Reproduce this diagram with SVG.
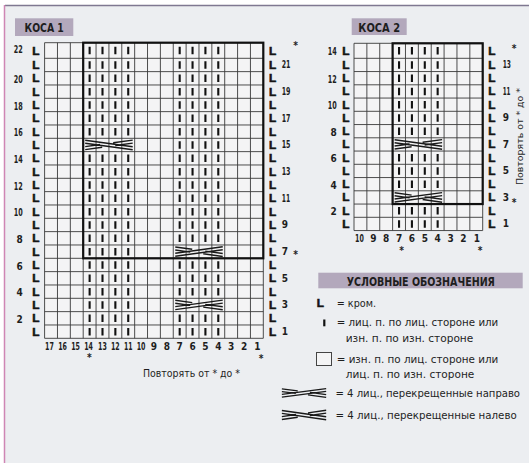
<svg xmlns="http://www.w3.org/2000/svg" xmlns:xlink="http://www.w3.org/1999/xlink" width="529" height="463" viewBox="0 0 529 463">
<style>
.bg{fill:#eceef1}
.cells{fill:#f4f4f5}
.grid{fill:none;stroke:#3a3a3a;stroke-width:0.9}
.thick{fill:none;stroke:#111;stroke-width:2.2}
.tab{fill:#b3a8bc}
.t{font-family:"Liberation Sans Narrow","DejaVu Sans Condensed","Liberation Sans",sans-serif;fill:#1e1e1e}
.b{font-weight:bold}
.L{font-family:"Liberation Sans","DejaVu Sans",sans-serif;font-weight:bold;font-size:11.8px;fill:#151515;stroke:#151515;stroke-width:0.6}
.n{font-size:10px}
.s{font-size:10px}
.lg{font-size:11px}
.m1{stroke:#111;stroke-width:2.1;stroke-dasharray:7.5 5.833}
.m2{stroke:#111;stroke-width:2.1;stroke-dasharray:7.4 5.85}
.mk{stroke:#111;stroke-width:2.1}
.cb{fill:none;stroke:#1a1a1a;stroke-width:1.4}
.mid{text-anchor:middle}
.end{text-anchor:end}
</style>
<defs>
<symbol id="crossR" viewBox="0 0 51.46 13.33" preserveAspectRatio="none">
<path class="cb" d="M2 11.3L49.5 4.8M2 8.3L49.5 1.8M2 2L19 4.3M32 6.1L49.5 8.5M2 5L17 7.1M30 8.8L49.5 11.5"/>
</symbol>
<symbol id="crossL" viewBox="0 0 51.46 13.33" preserveAspectRatio="none">
<path class="cb" d="M2 2L49.5 8.5M2 5L49.5 11.5M2 11.3L19 9M32 7.2L49.5 4.8M2 8.3L17 6.2M30 4.5L49.5 1.8"/>
</symbol>
</defs>
<rect width="529" height="463" fill="#ffffff"/>
<rect class="bg" x="5" y="5" width="524" height="458"/>
<line x1="5" y1="5.5" x2="529" y2="5.5" stroke="#7f7891" stroke-width="1.5"/>
<line x1="4.5" y1="5" x2="4.5" y2="463" stroke="#cf86b5" stroke-width="1.5"/>

<g id="koca1">
<rect class="tab" x="15" y="18.3" width="58.3" height="17.7"/>
<text class="t b mid" x="44.2" y="32" font-size="13" textLength="39.3" lengthAdjust="spacingAndGlyphs">КОСА 1</text>
<rect class="cells" x="44.6" y="42.7" width="218.71" height="295.6"/>
<path class="grid" d="M44.6 42.7V338.3M57.47 42.7V338.3M70.33 42.7V338.3M83.2 42.7V338.3M96.06 42.7V338.3M108.93 42.7V338.3M121.79 42.7V338.3M134.66 42.7V338.3M147.52 42.7V338.3M160.39 42.7V338.3M173.25 42.7V338.3M186.12 42.7V338.3M198.98 42.7V338.3M211.85 42.7V338.3M224.71 42.7V338.3M237.58 42.7V338.3M250.44 42.7V338.3M263.31 42.7V338.3
M44.6 42.7H263.31M44.6 58.3H263.31M44.6 71.63H263.31M44.6 84.97H263.31M44.6 98.3H263.31M44.6 111.63H263.31M44.6 124.97H263.31M44.6 138.3H263.31M44.6 151.63H263.31M44.6 164.97H263.31M44.6 178.3H263.31M44.6 191.63H263.31M44.6 204.97H263.31M44.6 218.3H263.31M44.6 231.63H263.31M44.6 244.97H263.31M44.6 258.3H263.31M44.6 271.63H263.31M44.6 284.97H263.31M44.6 298.3H263.31M44.6 311.63H263.31M44.6 324.97H263.31M44.6 338.3H263.31"/>
<rect class="thick" x="83.2" y="42.7" width="180.11" height="215.6"/>
<path class="mk" d="M89.63 46.75v7.5M102.5 46.75v7.5M115.36 46.75v7.5M128.23 46.75v7.5M179.69 46.75v7.5M192.55 46.75v7.5M205.42 46.75v7.5M218.28 46.75v7.5"/>
<g class="m1">
<line x1="89.63" y1="61.217" x2="89.63" y2="138.3"/><line x1="102.5" y1="61.217" x2="102.5" y2="138.3"/><line x1="115.36" y1="61.217" x2="115.36" y2="138.3"/><line x1="128.23" y1="61.217" x2="128.23" y2="138.3"/>
<line x1="89.63" y1="154.55" x2="89.63" y2="338.3"/><line x1="102.5" y1="154.55" x2="102.5" y2="338.3"/><line x1="115.36" y1="154.55" x2="115.36" y2="338.3"/><line x1="128.23" y1="154.55" x2="128.23" y2="338.3"/>
<line x1="179.69" y1="61.217" x2="179.69" y2="244.97"/><line x1="192.55" y1="61.217" x2="192.55" y2="244.97"/><line x1="205.42" y1="61.217" x2="205.42" y2="244.97"/><line x1="218.28" y1="61.217" x2="218.28" y2="244.97"/>
<line x1="179.69" y1="261.217" x2="179.69" y2="298.3"/><line x1="192.55" y1="261.217" x2="192.55" y2="298.3"/><line x1="205.42" y1="261.217" x2="205.42" y2="298.3"/><line x1="218.28" y1="261.217" x2="218.28" y2="298.3"/>
<line x1="179.69" y1="314.55" x2="179.69" y2="338.3"/><line x1="192.55" y1="314.55" x2="192.55" y2="338.3"/><line x1="205.42" y1="314.55" x2="205.42" y2="338.3"/><line x1="218.28" y1="314.55" x2="218.28" y2="338.3"/>
</g>
<use xlink:href="#crossL" x="83.2" y="138.3" width="51.46" height="13.33"/>
<use xlink:href="#crossR" x="173.25" y="244.97" width="51.46" height="13.33"/>
<use xlink:href="#crossR" x="173.25" y="298.3" width="51.46" height="13.33"/>
<g class="L">
<text x="32.3" y="54.5">L</text><text x="32.3" y="68.97">L</text><text x="32.3" y="82.3">L</text><text x="32.3" y="95.63">L</text><text x="32.3" y="108.97">L</text><text x="32.3" y="122.3">L</text><text x="32.3" y="135.63">L</text><text x="32.3" y="148.97">L</text><text x="32.3" y="162.3">L</text><text x="32.3" y="175.63">L</text><text x="32.3" y="188.97">L</text><text x="32.3" y="202.3">L</text><text x="32.3" y="215.63">L</text><text x="32.3" y="228.97">L</text><text x="32.3" y="242.3">L</text><text x="32.3" y="255.63">L</text><text x="32.3" y="268.97">L</text><text x="32.3" y="282.3">L</text><text x="32.3" y="295.63">L</text><text x="32.3" y="308.97">L</text><text x="32.3" y="322.3">L</text><text x="32.3" y="335.63">L</text>
<text x="269" y="54.5">L</text><text x="269" y="68.97">L</text><text x="269" y="82.3">L</text><text x="269" y="95.63">L</text><text x="269" y="108.97">L</text><text x="269" y="122.3">L</text><text x="269" y="135.63">L</text><text x="269" y="148.97">L</text><text x="269" y="162.3">L</text><text x="269" y="175.63">L</text><text x="269" y="188.97">L</text><text x="269" y="202.3">L</text><text x="269" y="215.63">L</text><text x="269" y="228.97">L</text><text x="269" y="242.3">L</text><text x="269" y="255.63">L</text><text x="269" y="268.97">L</text><text x="269" y="282.3">L</text><text x="269" y="295.63">L</text><text x="269" y="308.97">L</text><text x="269" y="322.3">L</text><text x="269" y="335.63">L</text>
</g>
<g class="t b n end">
<text x="22.7" y="52.5" textLength="9" lengthAdjust="spacingAndGlyphs">22</text><text x="22.7" y="82.8" textLength="9" lengthAdjust="spacingAndGlyphs">20</text><text x="22.7" y="109.5" textLength="9" lengthAdjust="spacingAndGlyphs">18</text><text x="22.7" y="136.1" textLength="9" lengthAdjust="spacingAndGlyphs">16</text><text x="22.7" y="162.8" textLength="9" lengthAdjust="spacingAndGlyphs">14</text><text x="22.7" y="189.5" textLength="9" lengthAdjust="spacingAndGlyphs">12</text><text x="22.7" y="216.1" textLength="9" lengthAdjust="spacingAndGlyphs">10</text><text x="22.7" y="242.8">8</text><text x="22.7" y="269.5">6</text><text x="22.7" y="296.1">4</text><text x="22.7" y="322.8">2</text>
</g>
<g class="t b n">
<text x="281.7" y="68.4" textLength="8.8" lengthAdjust="spacingAndGlyphs">21</text><text x="281.7" y="95" textLength="8.8" lengthAdjust="spacingAndGlyphs">19</text><text x="281.7" y="121.7" textLength="8.8" lengthAdjust="spacingAndGlyphs">17</text><text x="281.7" y="148.4" textLength="8.8" lengthAdjust="spacingAndGlyphs">15</text><text x="281.7" y="175" textLength="8.8" lengthAdjust="spacingAndGlyphs">13</text><text x="281.7" y="201.7" textLength="8.4" lengthAdjust="spacingAndGlyphs">11</text><text x="281.7" y="228.4">9</text><text x="281.7" y="255">7</text><text x="281.7" y="281.7">5</text><text x="281.7" y="308.4">3</text><text x="281.7" y="335">1</text>
</g>
<g class="t b n mid">
<text x="49.5" y="350" textLength="8.8" lengthAdjust="spacingAndGlyphs">17</text><text x="62.6" y="350" textLength="8.8" lengthAdjust="spacingAndGlyphs">16</text><text x="75.6" y="350" textLength="8.8" lengthAdjust="spacingAndGlyphs">15</text><text x="88.6" y="350" textLength="8.8" lengthAdjust="spacingAndGlyphs">14</text><text x="102.5" y="350" textLength="8.8" lengthAdjust="spacingAndGlyphs">13</text><text x="115.36" y="350" textLength="8.8" lengthAdjust="spacingAndGlyphs">12</text><text x="128.23" y="350" textLength="8.5" lengthAdjust="spacingAndGlyphs">11</text><text x="141.09" y="350" textLength="8.8" lengthAdjust="spacingAndGlyphs">10</text><text x="153.96" y="350">9</text><text x="166.82" y="350">8</text><text x="179.69" y="350">7</text><text x="192.55" y="350">6</text><text x="205.42" y="350">5</text><text x="218.28" y="350">4</text><text x="231.15" y="350">3</text><text x="244.01" y="350">2</text><text x="257.5" y="350">1</text>
</g>
<g class="t b s mid">
<text x="89.3" y="361">*</text><text x="261" y="361.5">*</text><text x="295.7" y="49">*</text><text x="295.7" y="258">*</text>
</g>
<text class="t s" x="143" y="377" textLength="97" lengthAdjust="spacingAndGlyphs">Повторять от * до *</text>
</g>

<g id="koca2">
<rect class="tab" x="351.7" y="18.3" width="55" height="16.7"/>
<text class="t b mid" x="379.2" y="31.5" font-size="13" textLength="41.7" lengthAdjust="spacingAndGlyphs">КОСА 2</text>
<rect class="cells" x="354" y="43.3" width="128.7" height="187.25"/>
<path class="grid" d="M354 43.3V230.55M366.87 43.3V230.55M379.74 43.3V230.55M392.61 43.3V230.55M405.48 43.3V230.55M418.35 43.3V230.55M431.22 43.3V230.55M444.09 43.3V230.55M456.96 43.3V230.55M469.83 43.3V230.55M482.7 43.3V230.55
M354 43.3H482.7M354 58.3H482.7M354 71.55H482.7M354 84.8H482.7M354 98.05H482.7M354 111.3H482.7M354 124.55H482.7M354 137.8H482.7M354 151.05H482.7M354 164.3H482.7M354 177.55H482.7M354 190.8H482.7M354 204.05H482.7M354 217.3H482.7M354 230.55H482.7"/>
<rect class="thick" x="392.61" y="43.3" width="90.09" height="160.75"/>
<path class="mk" d="M399.05 47.1v7.4M411.92 47.1v7.4M424.79 47.1v7.4M437.66 47.1v7.4"/>
<g class="m2">
<line x1="399.05" y1="61.225" x2="399.05" y2="137.8"/><line x1="411.92" y1="61.225" x2="411.92" y2="137.8"/><line x1="424.79" y1="61.225" x2="424.79" y2="137.8"/><line x1="437.66" y1="61.225" x2="437.66" y2="137.8"/>
<line x1="399.05" y1="153.975" x2="399.05" y2="190.8"/><line x1="411.92" y1="153.975" x2="411.92" y2="190.8"/><line x1="424.79" y1="153.975" x2="424.79" y2="190.8"/><line x1="437.66" y1="153.975" x2="437.66" y2="190.8"/>
<line x1="399.05" y1="206.975" x2="399.05" y2="230.55"/><line x1="411.92" y1="206.975" x2="411.92" y2="230.55"/><line x1="424.79" y1="206.975" x2="424.79" y2="230.55"/><line x1="437.66" y1="206.975" x2="437.66" y2="230.55"/>
</g>
<use xlink:href="#crossL" x="392.61" y="137.8" width="51.48" height="13.25"/>
<use xlink:href="#crossR" x="392.61" y="190.8" width="51.48" height="13.25"/>
<g class="L">
<text x="342.3" y="54.8">L</text><text x="342.3" y="68.9">L</text><text x="342.3" y="82.2">L</text><text x="342.3" y="95.4">L</text><text x="342.3" y="108.7">L</text><text x="342.3" y="121.9">L</text><text x="342.3" y="135.2">L</text><text x="342.3" y="148.4">L</text><text x="342.3" y="161.7">L</text><text x="342.3" y="174.9">L</text><text x="342.3" y="188.2">L</text><text x="342.3" y="201.4">L</text><text x="342.3" y="214.7">L</text><text x="342.3" y="227.9">L</text>
<text x="488.3" y="54.8">L</text><text x="488.3" y="68.9">L</text><text x="488.3" y="82.2">L</text><text x="488.3" y="95.4">L</text><text x="488.3" y="108.7">L</text><text x="488.3" y="121.9">L</text><text x="488.3" y="135.2">L</text><text x="488.3" y="148.4">L</text><text x="488.3" y="161.7">L</text><text x="488.3" y="174.9">L</text><text x="488.3" y="188.2">L</text><text x="488.3" y="201.4">L</text><text x="488.3" y="214.7">L</text><text x="488.3" y="227.9">L</text>
</g>
<g class="t b n end">
<text x="336.7" y="55.3" textLength="9" lengthAdjust="spacingAndGlyphs">14</text><text x="336.7" y="82.7" textLength="9" lengthAdjust="spacingAndGlyphs">12</text><text x="336.7" y="109.2" textLength="9" lengthAdjust="spacingAndGlyphs">10</text><text x="336.7" y="135.7">8</text><text x="336.7" y="162.2">6</text><text x="336.7" y="188.7">4</text><text x="336.7" y="215.2">2</text>
</g>
<g class="t b n">
<text x="502.7" y="68.3" textLength="8.3" lengthAdjust="spacingAndGlyphs">13</text><text x="502.7" y="94.8" textLength="7.8" lengthAdjust="spacingAndGlyphs">11</text><text x="502.7" y="121.3">9</text><text x="502.7" y="147.8">7</text><text x="502.7" y="174.3">5</text><text x="502.7" y="200.8">3</text><text x="502.7" y="227.3">1</text>
</g>
<g class="t b n mid">
<text x="359.5" y="241.7" textLength="8.8" lengthAdjust="spacingAndGlyphs">10</text><text x="373.31" y="241.7">9</text><text x="386.18" y="241.7">8</text><text x="399.05" y="241.7">7</text><text x="411.92" y="241.7">6</text><text x="424.79" y="241.7">5</text><text x="437.66" y="241.7">4</text><text x="450.53" y="241.7">3</text><text x="463.4" y="241.7">2</text><text x="477" y="241.7">1</text>
</g>
<g class="t b s mid">
<text x="401.7" y="254">*</text><text x="480" y="254">*</text><text x="514" y="52.3">*</text><text x="514" y="205.6">*</text>
</g>
<text class="t mid" font-size="9.5" transform="translate(523 136.5) rotate(-90)" textLength="97" lengthAdjust="spacingAndGlyphs">Повторять от * до *</text>
</g>

<g id="legend">
<rect class="tab" x="318.3" y="272.7" width="204.4" height="15.6" fill="#b8adc2"/>
<text class="t b mid" x="420.8" y="286" font-size="13" textLength="148.3" lengthAdjust="spacingAndGlyphs">УСЛОВНЫЕ ОБОЗНАЧЕНИЯ</text>
<text class="L" x="316.7" y="307.3">L</text>
<text class="t lg" x="336.7" y="307" textLength="39.3" lengthAdjust="spacingAndGlyphs">= кром.</text>
<rect x="323.2" y="319.5" width="2.2" height="6.8" fill="#111"/>
<text class="t lg" x="336.7" y="326" textLength="161.6" lengthAdjust="spacingAndGlyphs">= лиц. п. по лиц. стороне или</text>
<text class="t lg" x="345.7" y="341.7" textLength="127.6" lengthAdjust="spacingAndGlyphs">изн. п. по изн. стороне</text>
<rect x="316.5" y="352.5" width="15" height="13" fill="#f4f4f5" stroke="#444" stroke-width="1"/>
<text class="t lg" x="336.7" y="362.7" textLength="161.6" lengthAdjust="spacingAndGlyphs">= изн. п. по лиц. стороне или</text>
<text class="t lg" x="345.7" y="377.7" textLength="128.6" lengthAdjust="spacingAndGlyphs">лиц. п. по изн. стороне</text>
<use xlink:href="#crossR" x="280" y="387" width="48" height="12"/>
<text class="t lg" x="335.5" y="397" textLength="184.5" lengthAdjust="spacingAndGlyphs">= 4 лиц., перекрещенные направо</text>
<use xlink:href="#crossL" x="280" y="408.5" width="48" height="13"/>
<text class="t lg" x="335.5" y="419.3" textLength="181.2" lengthAdjust="spacingAndGlyphs">= 4 лиц., перекрещенные налево</text>
</g>
</svg>
